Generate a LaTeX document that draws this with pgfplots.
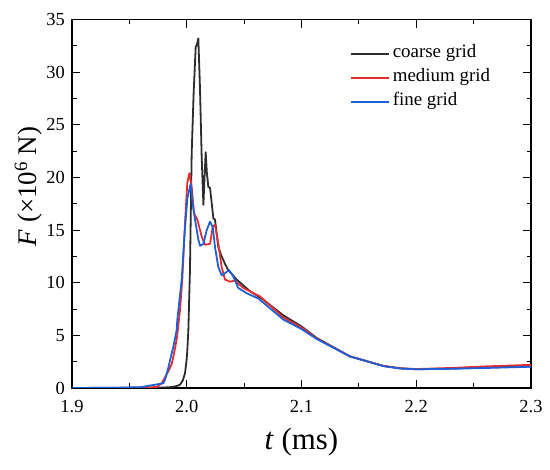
\documentclass[border=0pt]{standalone}
\usepackage{fontspec}
\setmainfont{Liberation Serif}
\usepackage{pgfplots}
\pgfplotsset{compat=1.18}
\definecolor{ccoarse}{RGB}{45,45,45}
\definecolor{cmedium}{RGB}{230,45,45}
\definecolor{cfine}{RGB}{30,95,215}
\begin{document}
\begin{tikzpicture}
\path (0,0) rectangle (550bp,470bp);
\begin{axis}[
  at={(72bp,82bp)}, anchor=south west,
  scale only axis, width=459bp, height=368.5bp,
  xmin=1.9, xmax=2.3, ymin=0, ymax=35,
  xtick={1.9,2.0,2.1,2.2,2.3},
  xticklabels={1.9,2.0,2.1,2.2,2.3},
  ytick={0,5,...,35},
  minor x tick num=1, minor y tick num=1,
  tick align=inside, tick pos=both,
  major tick length=8bp, minor tick length=4.5bp,
  axis line style={line width=1.1bp},
  every tick/.style={line width=1bp, black},
  /pgf/number format/assume math mode=true,
  tick label style={font=\fontsize{18.5}{20}\selectfont},
  xticklabel style={inner sep=0pt, anchor=north, yshift=-12bp},
  yticklabel style={inner sep=0pt, anchor=east, xshift=-7bp},
  xlabel={\textit{t} (ms)},
  ylabel={\textit{F} (×10\textsuperscript{6} N)},
  xlabel style={font=\fontsize{31}{34}\selectfont, at={(axis description cs:0.5,-0.108)}, anchor=north, inner sep=0pt},
  ylabel style={font=\fontsize{27}{30}\selectfont, at={(axis description cs:-0.065,0.547)}, anchor=south, inner sep=0pt},
  legend style={draw=none, fill=none, at={(rel axis cs:0.605,0.94)}, anchor=north west,
    font=\fontsize{19}{20}\selectfont, inner sep=0pt,
    nodes={inner sep=3bp, text height=13bp, text depth=5bp}},
  legend cell align=left,
  legend image post style={xscale=2.24},
  every axis plot post/.append style={line width=1.8bp, line join=round},
]
\addplot[ccoarse] coordinates {
(1.90,0) (1.95,0.0) (1.97,0.02) (1.98,0.05) (1.985,0.07) (1.99,0.15)
(1.994,0.3) (1.9965,0.7) (1.9985,1.4) (2.0,2.8) (2.0005,3.6) (2.0014,5.5)
(2.002,8) (2.0028,11.2) (2.0043,22.3) (2.006,28) (2.0078,32.4) (2.0088,32.6)
(2.0101,33.2) (2.0115,28.6) (2.013,22) (2.0145,17.4) (2.0155,20) (2.0165,22.4)
(2.0175,20.5) (2.0188,19.1) (2.0203,19.0) (2.0232,16.1) (2.0246,16.0)
(2.0275,13.4) (2.0304,12.5) (2.0333,11.8) (2.0362,11.2) (2.0435,10.3)
(2.055,9.2) (2.0653,8.5) (2.0842,6.9) (2.1,5.85) (2.1133,4.75) (2.1423,3.0)
(2.1713,2.1) (2.186,1.87) (2.2,1.78) (2.23,1.85) (2.26,1.95) (2.3,2.05)
};
\addlegendentry{coarse grid}
\addplot[cmedium] coordinates {
(1.90,0) (1.95,0.03) (1.965,0.05) (1.9738,0.1) (1.9782,0.45) (1.984,1.6)
(1.987,2.3) (1.9895,3.6) (1.9915,4.8) (1.9941,7.4) (1.9961,10.3) (1.9985,15.7)
(2.0005,19.5) (2.0023,20.4) (2.0043,19.1) (2.0063,16.6) (2.0092,16.0)
(2.013,14.4) (2.0159,13.6) (2.0203,13.7) (2.0215,14.5) (2.0226,15.3)
(2.0246,15.5) (2.0275,13.7) (2.0304,11.5) (2.0333,10.3) (2.0377,10.1)
(2.042,10.2) (2.0493,9.5) (2.0638,8.7) (2.0842,6.7) (2.1,5.75) (2.1133,4.7)
(2.1423,3.0) (2.1713,2.1) (2.186,1.87) (2.2,1.8) (2.23,1.9) (2.26,2.05) (2.3,2.2)
};
\addlegendentry{medium grid}
\addplot[cfine] coordinates {
(1.90,0) (1.94,0.03) (1.96,0.08) (1.9796,0.45) (1.981,0.76) (1.9839,1.9)
(1.9869,3.3) (1.9883,3.9) (1.9912,5.5) (1.9918,6.5) (1.9956,10.3) (1.998,14.5)
(2.0005,18) (2.0034,19.4) (2.0052,17.5) (2.0072,16.0) (2.0101,14.1)
(2.0116,13.5) (2.0145,13.7) (2.0174,15.0) (2.0203,15.8) (2.0226,15.3)
(2.0246,13.4) (2.0275,11.5) (2.0304,10.7) (2.0333,10.9) (2.0368,11.2)
(2.0406,10.6) (2.0449,9.5) (2.0522,9.0) (2.0624,8.5) (2.0842,6.5) (2.1,5.6)
(2.1133,4.65) (2.1423,3.0) (2.1713,2.08) (2.186,1.85) (2.2,1.78) (2.23,1.82)
(2.26,1.9) (2.3,2.02)
};
\addlegendentry{fine grid}
\end{axis}
\end{tikzpicture}
\end{document}
